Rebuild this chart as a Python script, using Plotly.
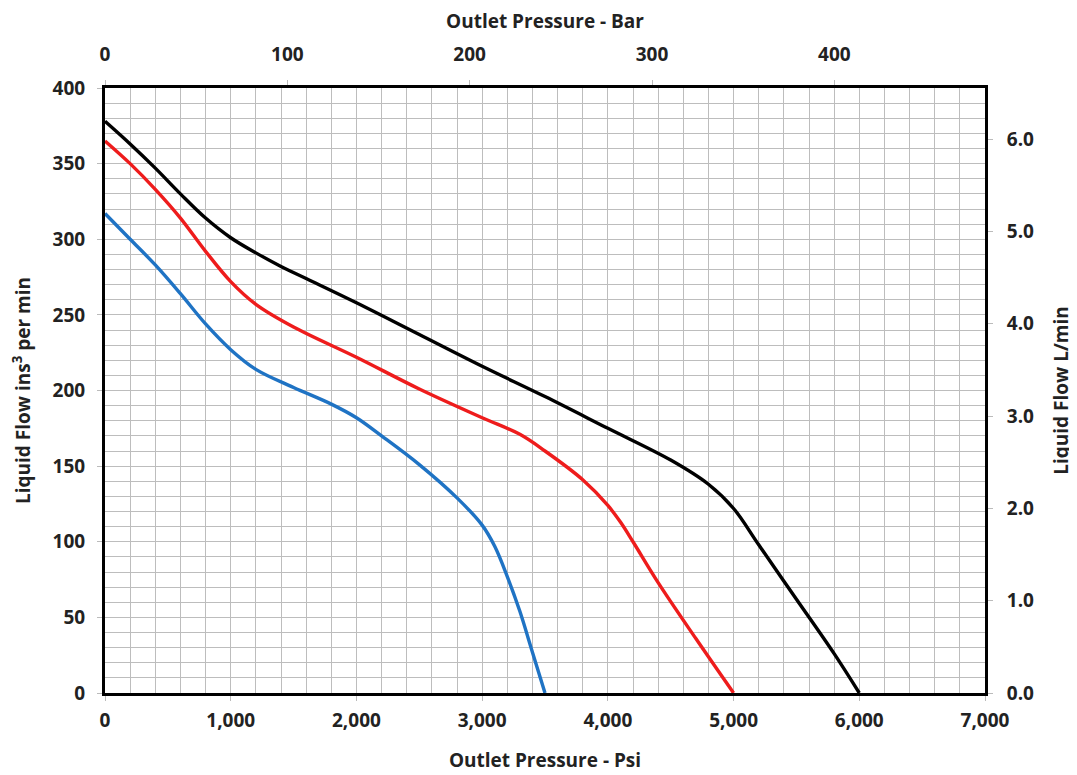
import plotly.graph_objects as go

# Data (Outlet pressure in psi, liquid flow in in^3/min)
black_psi = [0, 200, 400, 600, 800, 1000, 1200, 1400, 1600, 2000, 2500, 3000, 3500, 4000, 4500, 4800, 5000, 5200, 5500, 5800, 6000]
black_flow = [378, 363, 347, 330, 314, 301, 291, 282, 274, 258, 237, 216, 196, 175, 154, 138, 122, 98, 62, 26, 0]

red_psi = [0, 200, 400, 600, 800, 1000, 1200, 1500, 2000, 2500, 3000, 3300, 3500, 3800, 4000, 4100, 4200, 4400, 4700, 5000]
red_flow = [365, 350, 333, 314, 292, 272, 257, 242, 222, 201, 182, 171, 160, 141, 124, 113, 100, 73, 36, 0]

blue_psi = [0, 200, 400, 600, 800, 1000, 1200, 1500, 1800, 2000, 2200, 2500, 2800, 3000, 3100, 3200, 3300, 3400, 3500]
blue_flow = [317, 300, 283, 264, 244, 227, 214, 202, 191, 182, 170, 151, 129, 111, 97, 77, 54, 27, 0]

PSI_PER_BAR = 14.5038
L_PER_IN3 = 0.016387064
x_max_psi = 7000
y_max_in3 = 400

FONT = "Open Sans"
GRID = "#bdbdbd"

fig = go.Figure()
for xs, ys, col in [(blue_psi, blue_flow, "#1f73c4"), (red_psi, red_flow, "#ee1c1c"), (black_psi, black_flow, "#000000")]:
    fig.add_trace(go.Scatter(x=xs, y=ys, mode="lines", line=dict(color=col, width=3.4, shape="spline", smoothing=1.0),
                             showlegend=False, hoverinfo="skip"))

# invisible trace for secondary axes
fig.add_trace(go.Scatter(x=[0, x_max_psi / PSI_PER_BAR], y=[0, y_max_in3 * L_PER_IN3], xaxis="x2", yaxis="y2",
                         mode="markers", marker=dict(opacity=0), showlegend=False, hoverinfo="skip"))

tickfont = dict(family=FONT, size=19, color="#222222", weight="bold")
titlefont = dict(family=FONT, size=19, color="#222222", weight="bold")

fig.update_layout(
    width=1077, height=775,
    margin=dict(l=97, r=100, t=80, b=90, autoexpand=False),
    paper_bgcolor="white", plot_bgcolor="white",
    xaxis=dict(range=[0, x_max_psi], dtick=1000, tickformat=",", showgrid=True, gridcolor=GRID, gridwidth=1,
               minor=dict(dtick=200, showgrid=True, gridcolor=GRID, gridwidth=1),
               showline=True, linecolor="black", linewidth=3, ticks="outside", ticklen=5, tickcolor="#bbbbbb",
               ticklabelstandoff=3, tickfont=tickfont, zeroline=False, automargin=False,
               title=dict(text="Outlet Pressure - Psi", font=titlefont, standoff=22)),
    yaxis=dict(range=[0, y_max_in3], dtick=50, showgrid=True, gridcolor=GRID, gridwidth=1,
               minor=dict(dtick=10, showgrid=True, gridcolor=GRID, gridwidth=1),
               showline=True, linecolor="black", linewidth=3, ticks="outside", ticklen=5, tickcolor="#bbbbbb",
               ticklabelstandoff=8, tickfont=tickfont, zeroline=False, automargin=False,
               title=dict(text="Liquid Flow ins<sup>3</sup> per min", font=titlefont, standoff=20)),
    xaxis2=dict(range=[0, x_max_psi / PSI_PER_BAR], dtick=100, overlaying="x", side="top", anchor="y",
                showgrid=False, showline=True, linecolor="black", linewidth=3, ticks="outside", ticklen=5,
                tickcolor="#bbbbbb", ticklabelstandoff=11, tickfont=tickfont, zeroline=False, automargin=False,
                title=dict(text="Outlet Pressure - Bar", font=titlefont, standoff=12)),
    yaxis2=dict(range=[0, y_max_in3 * L_PER_IN3], dtick=1, tickformat=".1f", overlaying="y", side="right", anchor="x",
                showgrid=False, showline=True, linecolor="black", linewidth=3, ticks="outside", ticklen=5,
                tickcolor="#bbbbbb", ticklabelstandoff=10, tickfont=tickfont, zeroline=False, automargin=False,
                title=dict(text="Liquid Flow L/min", font=titlefont, standoff=22)),
)

fig.write_html("out.html")
